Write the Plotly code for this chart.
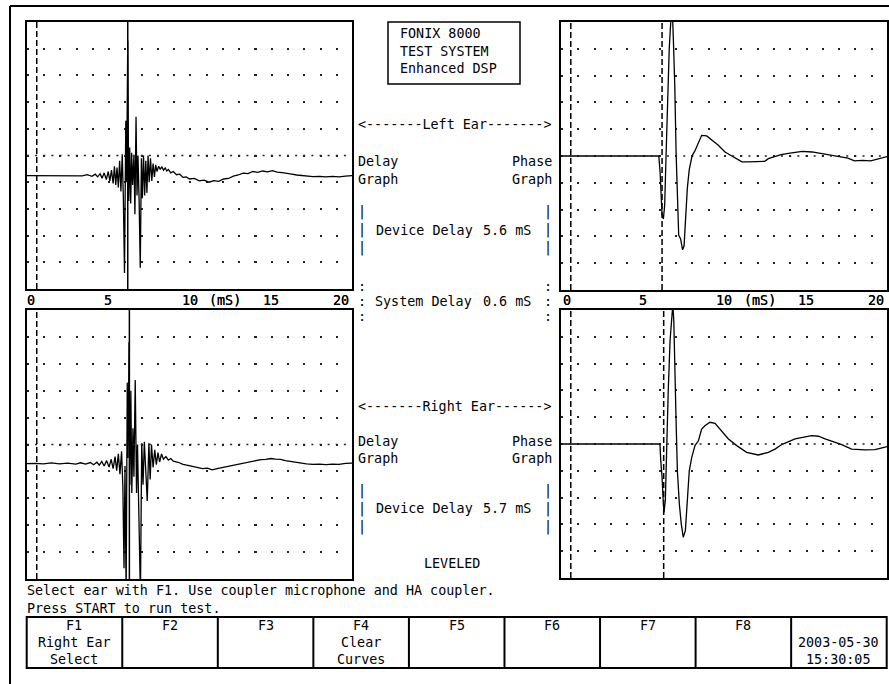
import plotly.graph_objects as go

W, H = 889, 684

# ---------------- data ----------------
x_range = [0, 20]
y_range = [-5, 5]
grid_rows = [-4, -3, -2, -1, 0, 1, 2, 3, 4]
tick_labels = [0, 5, 10, 15, 20]

system_delay = 0.6
device_delay_left = 5.6
device_delay_right = 5.7

# Delay graph (impulse response), left ear: (ms, units)
left_delay = [
    (0.0, -0.75), (0.6, -0.75), (1.2, -0.76), (1.8, -0.74), (2.4, -0.75), (3.0, -0.74),
    (3.4, -0.76), (3.7, -0.72), (4.0, -0.78), (4.2, -0.7), (4.35, -0.8), (4.5, -0.68),
    (4.62, -0.85), (4.75, -0.65), (4.88, -0.9), (5.0, -0.6), (5.1, -0.95), (5.2, -0.55),
    (5.3, -1.05), (5.38, -0.4), (5.46, -1.1), (5.54, -0.45), (5.62, -1.2), (5.7, -0.2),
    (5.78, -1.35), (5.86, 0.05), (5.93, -1.6), (6.0, -4.4), (6.08, 1.3), (6.13, -1.0),
    (6.2, 4.3), (6.26, -1.7), (6.32, 0.3), (6.38, -1.8), (6.44, 0.1), (6.5, -1.1),
    (6.58, 0.0), (6.64, -2.2), (6.71, 1.45), (6.77, -1.5), (6.83, 0.0), (6.9, -1.7),
    (6.97, -4.2), (7.04, -0.1), (7.1, -1.6), (7.17, 0.0), (7.24, -1.5), (7.31, -0.2),
    (7.38, -1.4), (7.45, 0.0), (7.52, -1.0), (7.6, -0.1), (7.68, -0.95), (7.76, -0.3),
    (7.84, -0.8), (7.92, -0.35), (8.0, -0.6), (8.1, -0.4), (8.2, -0.52), (8.3, -0.42),
    (8.4, -0.55), (8.5, -0.47), (8.6, -0.58), (8.7, -0.52), (8.85, -0.65), (9.0, -0.6),
    (9.2, -0.72), (9.4, -0.7), (9.6, -0.82), (9.8, -0.8), (10.0, -0.88), (10.3, -0.86),
    (10.6, -0.95), (10.9, -0.92), (11.2, -1.0), (11.5, -0.94), (11.8, -0.97), (12.1, -0.88),
    (12.4, -0.86), (12.7, -0.77), (13.0, -0.73), (13.3, -0.66), (13.6, -0.68), (13.9, -0.6),
    (14.2, -0.63), (14.5, -0.58), (14.8, -0.61), (15.1, -0.57), (15.4, -0.62), (15.7, -0.64),
    (16.0, -0.68), (16.3, -0.7), (16.6, -0.73), (16.9, -0.75), (17.2, -0.77), (17.6, -0.79),
    (18.0, -0.78), (18.4, -0.8), (18.8, -0.78), (19.2, -0.8), (19.6, -0.77), (20.0, -0.75),
]

# Delay graph, right ear
right_delay = [
    (0.0, -0.71), (0.5, -0.7), (1.0, -0.72), (1.5, -0.68), (2.0, -0.72), (2.5, -0.69),
    (3.0, -0.73), (3.3, -0.68), (3.6, -0.73), (3.9, -0.67), (4.1, -0.75), (4.3, -0.66),
    (4.45, -0.77), (4.6, -0.63), (4.75, -0.8), (4.9, -0.6), (5.05, -0.84), (5.18, -0.55),
    (5.3, -0.9), (5.42, -0.45), (5.52, -0.97), (5.62, -0.35), (5.72, -1.1), (5.82, -0.25),
    (5.9, -1.6), (5.97, -4.6), (6.03, -0.8), (6.1, -5.6), (6.17, 2.3), (6.22, -0.5),
    (6.28, 3.8), (6.33, -1.5), (6.39, 2.0), (6.45, -1.8), (6.52, 0.6), (6.58, -1.2),
    (6.66, 2.4), (6.74, -1.8), (6.8, 0.0), (6.88, -2.0), (6.98, -5.6), (7.06, 0.05),
    (7.14, -1.5), (7.22, 0.1), (7.3, -0.9), (7.4, -2.1), (7.5, 0.05), (7.58, -1.3),
    (7.66, 0.0), (7.76, -0.85), (7.86, -0.2), (7.96, -0.75), (8.06, -0.3), (8.16, -0.65),
    (8.28, -0.35), (8.4, -0.55), (8.55, -0.45), (8.7, -0.58), (8.85, -0.52), (9.0, -0.62),
    (9.3, -0.66), (9.6, -0.74), (9.9, -0.78), (10.2, -0.82), (10.5, -0.86), (10.8, -0.9),
    (11.1, -0.88), (11.4, -0.94), (11.7, -0.9), (12.0, -0.86), (12.3, -0.84), (12.6, -0.78),
    (12.9, -0.76), (13.2, -0.7), (13.5, -0.66), (13.8, -0.63), (14.1, -0.6), (14.4, -0.56),
    (14.7, -0.55), (15.0, -0.52), (15.3, -0.54), (15.6, -0.55), (15.9, -0.6), (16.2, -0.63),
    (16.5, -0.66), (16.8, -0.7), (17.2, -0.72), (17.6, -0.74), (18.0, -0.73), (18.4, -0.75),
    (18.8, -0.73), (19.2, -0.74), (19.6, -0.7), (20.0, -0.69),
]

# Phase graph, left ear
left_phase = [
    (0.0, 0.0), (6.0, 0.0), (6.08, -0.6), (6.14, -1.5), (6.2, -2.2), (6.28, -2.35),
    (6.36, -1.85), (6.44, -0.1), (6.52, 2.0), (6.64, 4.0), (6.76, 5.3), (6.82, 5.6),
    (6.89, 4.4), (6.98, 2.65), (7.06, 0.15), (7.14, -1.7), (7.22, -2.95), (7.34, -3.1),
    (7.46, -3.5), (7.55, -3.35), (7.63, -2.35), (7.75, -1.2), (7.87, -0.5), (8.04, 0.0),
    (8.22, 0.2), (8.42, 0.45), (8.63, 0.77), (8.94, 0.75), (9.24, 0.6), (9.65, 0.4),
    (10.06, 0.15), (10.4, 0.02), (10.78, -0.12), (11.1, -0.22), (11.5, -0.22), (12.0, -0.22),
    (12.5, -0.2), (12.72, -0.1), (13.1, -0.02), (13.5, 0.05), (13.95, 0.1), (14.4, 0.14),
    (14.8, 0.17), (15.4, 0.15), (16.0, 0.09), (16.5, 0.04), (17.0, 0.0), (17.6, -0.08),
    (18.0, -0.18), (18.5, -0.16), (19.0, -0.18), (19.5, -0.1), (19.9, -0.05), (20.0, -0.02),
]

# Phase graph, right ear
right_phase = [
    (0.0, 0.0), (6.07, 0.0), (6.12, -0.62), (6.2, -1.24), (6.28, -2.24), (6.32, -2.55),
    (6.4, -2.11), (6.48, -0.12), (6.58, 1.99), (6.69, 3.85), (6.81, 4.97), (6.86, 5.2),
    (6.92, 4.6), (6.98, 3.36), (7.06, 0.87), (7.14, -1.0), (7.26, -2.24), (7.38, -2.99),
    (7.5, -3.48), (7.63, -3.23), (7.75, -2.11), (7.87, -1.0), (8.02, -0.5), (8.22, -0.06),
    (8.43, 0.12), (8.63, 0.56), (8.83, 0.68), (9.14, 0.81), (9.45, 0.77), (9.75, 0.56),
    (10.06, 0.31), (10.27, 0.19), (10.78, -0.06), (11.39, -0.31), (12.1, -0.41), (12.72, -0.31),
    (13.13, -0.19), (13.54, -0.02), (14.36, 0.19), (15.38, 0.31), (15.79, 0.29), (16.2, 0.19),
    (17.22, -0.02), (17.83, -0.19), (18.65, -0.22), (19.26, -0.21), (19.88, -0.12), (20.0, -0.1),
]

fkey_headers = ["F1", "F2", "F3", "F4", "F5", "F6", "F7", "F8", ""]
fkey_line2 = ["Right Ear", "", "", "Clear", "", "", "", "", "2003-05-30"]
fkey_line3 = ["Select", "", "", "Curves", "", "", "", "", "15:30:05"]

# ---------------- layout helpers ----------------
FONT = dict(family="DejaVu Sans Mono", size=13.4, color="black")


def PX(x):
    return x / W


def PY(y):
    return 1 - y / H


boxes = {  # axis suffix: (left, right, top, bottom) in pixels
    "": (27, 352, 22, 289),
    "2": (27, 352, 310, 579),
    "3": (561, 887, 22, 290),
    "4": (561, 887, 310, 578),
}

fig = go.Figure()

series = [("", left_delay), ("2", right_delay), ("3", left_phase), ("4", right_phase)]
for sfx, pts in series:
    fig.add_trace(go.Scatter(
        x=[p[0] for p in pts], y=[p[1] for p in pts],
        mode="lines", line=dict(color="black", width=1.3),
        xaxis="x" + sfx, yaxis="y" + sfx, hoverinfo="skip",
    ))

layout = dict(
    width=W, height=H, margin=dict(l=0, r=0, t=0, b=0),
    paper_bgcolor="white", plot_bgcolor="white", showlegend=False,
)
shapes = []
annotations = []

for sfx, (l, r, t, b) in boxes.items():
    pxw = (r - l) / (x_range[1] - x_range[0])
    layout["xaxis" + sfx] = dict(
        domain=[PX(l), PX(r)], range=x_range, showgrid=False, zeroline=False,
        showticklabels=False, ticks="", showline=True, mirror=True,
        linecolor="black", linewidth=1.5, anchor="y" + sfx, fixedrange=True,
    )
    layout["yaxis" + sfx] = dict(
        domain=[PY(b), PY(t)], range=y_range, tickvals=grid_rows, showgrid=True,
        gridcolor="#222", gridwidth=1.5, griddash="2px,%.3fpx" % (pxw - 2),
        zeroline=False, showticklabels=False, ticks="", showline=True, mirror=True,
        linecolor="black", linewidth=1.5, anchor="x" + sfx, fixedrange=True,
    )
    # denser dotted centre row
    shapes.append(dict(type="line", xref="x" + sfx, yref="y" + sfx,
                       x0=x_range[0], x1=x_range[1], y0=0, y1=0,
                       line=dict(color="#222", width=1.5, dash="2px,%.3fpx" % (pxw / 2 - 2))))
    # system delay marker
    shapes.append(dict(type="line", xref="x" + sfx, yref="y%s domain" % sfx,
                       x0=system_delay, x1=system_delay, y0=0, y1=1,
                       line=dict(color="black", width=1.5, dash="6px,3px")))
    # tick labels
    yl = PY(300)
    annotations.append(dict(text="0", x=0, xref="x" + sfx, y=yl, yref="paper",
                            xanchor="left", yanchor="middle", xshift=-2 if sfx in ("", "2") else 0,
                            showarrow=False, font=FONT))
    for v in tick_labels[1:-1]:
        annotations.append(dict(text=str(v), x=v, xref="x" + sfx, y=yl, yref="paper",
                                xanchor="center", yanchor="middle", showarrow=False, font=FONT))
    annotations.append(dict(text=str(tick_labels[-1]), x=20, xref="x" + sfx, y=yl, yref="paper",
                            xanchor="right", yanchor="middle", xshift=-1,
                            showarrow=False, font=FONT))
    annotations.append(dict(text="(mS)", x=12.2, xref="x" + sfx, y=yl, yref="paper",
                            xanchor="center", yanchor="middle", showarrow=False, font=FONT))

# device delay markers
arr = [("", system_delay + device_delay_left, "solid"),
       ("2", system_delay + device_delay_right, "solid"),
       ("3", system_delay + device_delay_left, "6px,3px"),
       ("4", system_delay + device_delay_right, "6px,3px")]
for sfx, xv, dash in arr:
    shapes.append(dict(type="line", xref="x" + sfx, yref="y%s domain" % sfx,
                       x0=xv, x1=xv, y0=0, y1=1,
                       line=dict(color="black", width=1.5, dash=dash)))

# outer frame
shapes.append(dict(type="line", xref="paper", yref="paper", x0=PX(10), x1=PX(889),
                   y0=PY(6), y1=PY(6), line=dict(color="black", width=2)))
shapes.append(dict(type="line", xref="paper", yref="paper", x0=PX(10), x1=PX(10),
                   y0=PY(6), y1=PY(684), line=dict(color="black", width=2)))

# FONIX box
shapes.append(dict(type="rect", xref="paper", yref="paper", x0=PX(388), x1=PX(520),
                   y0=PY(84), y1=PY(22), line=dict(color="black", width=1.5)))


def txt(s, x, y, anchor="left"):
    annotations.append(dict(text=s, x=PX(x), y=PY(y), xref="paper", yref="paper",
                            xanchor=anchor, yanchor="middle", showarrow=False, font=FONT))


txt("FONIX 8000", 398, 33)
txt("TEST SYSTEM", 398, 51)
txt("Enhanced DSP", 398, 69)

for ear, dd, y0 in (("Left", device_delay_left, 125), ("Right", device_delay_right, 406)):
    arrow = "&lt;-------Left Ear-------&gt;" if ear == "Left" else "&lt;-------Right Ear------&gt;"
    txt(arrow, 356, y0)
    dy = 0 if ear == "Left" else -2
    txt("Delay", 356, y0 + 37 + dy)
    txt("Phase", 554, y0 + 37 + dy, "right")
    txt("Graph", 356, y0 + 54 + dy)
    txt("Graph", 554, y0 + 54 + dy, "right")
    txt("|", 356, y0 + 87 + dy)
    txt("|", 554, y0 + 87 + dy, "right")
    txt("|", 356, y0 + 105 + dy)
    txt("Device Delay", 374, y0 + 105 + dy)
    txt("%.1f mS" % dd, 481, y0 + 105 + dy)
    txt("|", 554, y0 + 105 + dy, "right")
    txt("|", 356, y0 + 123 + dy)
    txt("|", 554, y0 + 123 + dy, "right")

txt(":", 356, 287)
txt(":", 554, 287, "right")
txt(":", 356, 301)
txt("System Delay", 373, 301)
txt("%.1f mS" % system_delay, 481, 301)
txt(":", 554, 301, "right")
txt(":", 356, 316)
txt(":", 554, 316, "right")

txt("LEVELED", 452, 563, "center")

txt("Select ear with F1. Use coupler microphone and HA coupler.", 25, 590)
txt("Press START to run test.", 25, 608)

# function key table
tl, tr, tt, tb = 26.7, 886.7, 617, 668
shapes.append(dict(type="rect", xref="paper", yref="paper", x0=PX(tl), x1=PX(tr),
                   y0=PY(tb), y1=PY(tt), line=dict(color="black", width=2)))
n = len(fkey_headers)
cw = (tr - tl) / n
for i in range(1, n):
    shapes.append(dict(type="line", xref="paper", yref="paper",
                       x0=PX(tl + i * cw), x1=PX(tl + i * cw), y0=PY(tb), y1=PY(tt),
                       line=dict(color="black", width=2)))
for i in range(n):
    cx = tl + (i + 0.5) * cw
    if fkey_headers[i]:
        txt(fkey_headers[i], cx, 625, "center")
    if fkey_line2[i]:
        txt(fkey_line2[i], cx, 642, "center")
    if fkey_line3[i]:
        txt(fkey_line3[i], cx, 659, "center")

layout["shapes"] = shapes
layout["annotations"] = annotations
fig.update_layout(**layout)

fig.write_html("out.html", config={"displayModeBar": False},
               post_script="document.body.style.margin='0';document.body.style.overflow='hidden';")
